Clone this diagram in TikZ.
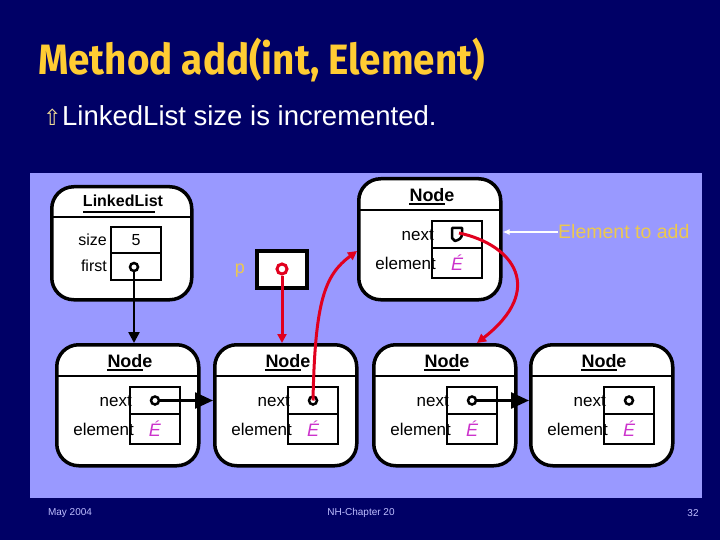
\documentclass[tikz,border=0pt]{standalone}
\usepackage{fontspec}
\setmainfont{Liberation Sans}
\newfontfamily\titlefont{Fira Sans}
\newfontfamily\symfont{DejaVu Sans}
\usetikzlibrary{arrows.meta}
\definecolor{navy}{RGB}{0,0,102}
\definecolor{panel}{RGB}{153,153,255}
\definecolor{titley}{RGB}{255,204,51}
\definecolor{labely}{RGB}{236,200,80}
\definecolor{bulletc}{RGB}{240,220,150}
\definecolor{elemmag}{RGB}{204,51,204}
\definecolor{linkred}{RGB}{225,0,30}
\definecolor{footc}{RGB}{190,190,255}
\tikzset{
 boxnode/.style={draw, line width=3.5pt, fill=white, rounded corners=22pt, minimum width=142pt, minimum height=121pt, inner sep=0pt, anchor=north west},
 cell/.style={draw, line width=2.5pt, fill=white, minimum width=50pt, inner sep=0pt},
 lbl/.style={font=\fontsize{17}{17}\selectfont, inner sep=0pt, anchor=east},
 elt/.style={font=\itshape\fontsize{18}{18}\selectfont, text=elemmag, inner sep=0pt},
 ptr/.style={circle, draw, line width=2.5pt, minimum size=8pt, inner sep=0pt, fill=white},
 hdr/.style={font=\bfseries\fontsize{18}{18}\selectfont, inner sep=0pt},
 link/.style={line width=2.5pt, -{Triangle[length=18pt,width=16pt]}},
 redlink/.style={draw=linkred, line width=3pt, -{Triangle[length=9pt,width=9pt]}},
 foot/.style={font=\fontsize{10}{10}\selectfont, text=footc, inner sep=0pt},
}
\newcommand\mkNode[3]{%
 \node[boxnode] (#1) at (#2,#3) {};
 \draw[line width=2.5pt] (#2,#3+33) -- (#2+142,#3+33);
 \node[hdr] (#1-hdr) at (#2+75,#3+18) {Node};
 \draw[line width=2pt] (#2+52,#3+27) -- (#2+88,#3+27);
 \node[cell, minimum height=27pt] (#1-next) at (#2+100,#3+57.5) {};
 \node[cell, minimum height=30pt] (#1-elem) at (#2+100,#3+86) {};
 \node[lbl] (#1-nl) at (#2+77,#3+58) {next};
 \node[lbl] (#1-el) at (#2+79,#3+86) {element};
 \node[elt] (#1-e) at (#1-elem) {É};
}
\begin{document}
\begin{tikzpicture}[x=1pt,y=-1pt]
\fill[navy] (0,0) rectangle (720,540);
\useasboundingbox (0,0) rectangle (720,540);
\fill[panel] (30,173) rectangle (702,498);
% title
\node[anchor=base west, inner sep=0pt, text=titley, font=\titlefont\bfseries\fontsize{38.6}{40}\selectfont, yscale=1.1] (title) at (38,75) {Method add(int, Element)};
\node[anchor=base west, inner sep=0pt, text=bulletc, font=\symfont\fontsize{22}{22}\selectfont] (bul) at (43,126) {⇧};
\node[anchor=base west, inner sep=0pt, text=white, font=\fontsize{27.5}{30}\selectfont] (sub) at (62,126) {LinkedList size is incremented.};
% LinkedList box
\node[boxnode, minimum width=140pt, minimum height=113pt] (ll) at (50,185) {};
\draw[line width=2.5pt] (50,217) -- (190,217);
\node[font=\bfseries\fontsize{16}{16}\selectfont, inner sep=0pt] (llhdr) at (123,201) {LinkedList};
\draw[line width=2pt] (83,212) -- (155,212);
\node[cell, minimum height=26pt] (llsize) at (136,240) {};
\node[cell, minimum height=27pt] (llfirst) at (136,266.5) {};
\node[lbl, font=\fontsize{16}{16}\selectfont] (llsl) at (107,240) {size};
\node[lbl, font=\fontsize{16}{16}\selectfont] (llfl) at (107,266) {first};
\node[font=\fontsize{16}{16}\selectfont, inner sep=0pt] (llfive) at (136,240) {5};
\node[ptr] (ll-ptr) at (134,267) {};
% p
\node[draw, line width=3.5pt, fill=white, minimum width=50pt, minimum height=37pt, inner sep=0pt] (pbox) at (282,269.5) {};
\node[text=labely, font=\fontsize{18}{18}\selectfont, inner sep=0pt] (plbl) at (240,271) {p};
\node[circle, draw=linkred, line width=3pt, minimum size=10pt, inner sep=0pt, fill=white] (p-ptr) at (282,269) {};
% top node
\mkNode{tn}{357}{177}
\coordinate (tn-ptr) at (459,233);
\draw[line width=2.5pt, line join=round] (452,228) -- (462,228) -- (462,234) .. controls (462,238) and (459,240) .. (455,241) -- (452,238) -- cycle;
% bottom nodes
\mkNode{na}{55}{343}
\mkNode{nb}{213}{343}
\mkNode{nc}{372}{343}
\mkNode{nd}{529}{343}
\node[ptr] (na-ptr) at (na-next) {};
\node[ptr] (nb-ptr) at (nb-next) {};
\node[ptr] (nc-ptr) at (nc-next) {};
\node[ptr] (nd-ptr) at (nd-next) {};
% links
\draw[line width=2.5pt, -{Triangle[length=11pt,width=11pt]}] (ll-ptr) -- (ll-ptr |- na.north);
\draw[link] (na-ptr) -- (na-ptr -| nb.west);
\draw[link] (nc-ptr) -- (nc-ptr -| nd.west);
\draw[redlink] (p-ptr) -- (p-ptr |- nb.north);
\coordinate (tnin) at (357,251);
\draw[redlink] (nb-ptr.center) .. controls (315,300) and (325,275) .. (tnin);
\coordinate (ncin) at (477,343);
\draw[redlink] (tn-ptr) .. controls (515,245) and (545,290) .. (ncin);
% element to add
\node[anchor=west, text=labely, font=\fontsize{19.5}{20}\selectfont, inner sep=0pt] (eta) at (558,232) {Element to add};
\draw[white, line width=1.5pt, -{Latex[length=7pt,width=6pt]}] (eta.west) -- (eta.west -| tn.east);
% footer
\node[foot] (fdate) at (70,513) {May 2004};
\node[foot] (fchap) at (361,513) {NH-Chapter 20};
\node[foot] (fpage) at (693,513) {32};
\end{tikzpicture}
\end{document}
